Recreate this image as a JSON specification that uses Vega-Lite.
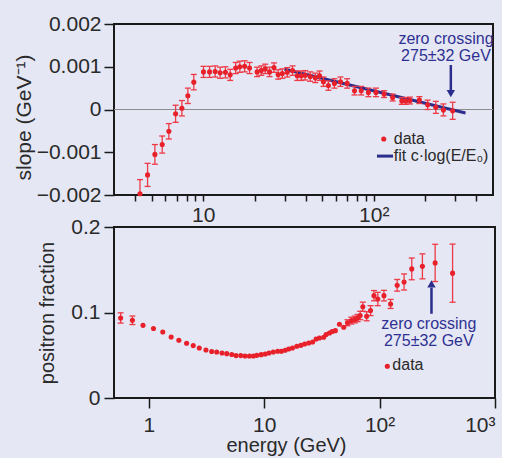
{
  "$schema": "https://vega.github.io/schema/vega-lite/v6.json",
  "background": "#e5e7f4",
  "padding": {"left": 12, "top": 12, "right": 5, "bottom": 3},
  "config": {
    "font": "Liberation Sans",
    "view": {"stroke": "#1a1a1a", "strokeWidth": 2},
    "axis": {"grid": false, "domain": false, "tickColor": "#1a1a1a", "tickWidth": 1.5, "labelFont": "Liberation Sans", "labelFontSize": 21, "labelColor": "#2a2a2a", "titleFont": "Liberation Sans", "titleFontSize": 20, "titleFontWeight": "normal", "titleColor": "#2a2a2a", "labelOverlap": false}
  },
  "datasets": {
    "one": [{}],
    "slope": [
      {"E": 4.26, "v": -0.00197, "lo": -0.0023, "hi": -0.00164},
      {"E": 4.72, "v": -0.00153, "lo": -0.0018, "hi": -0.00126},
      {"E": 5.21, "v": -0.00105, "lo": -0.00128, "hi": -0.00082},
      {"E": 5.75, "v": -0.00082, "lo": -0.00102, "hi": -0.00062},
      {"E": 6.29, "v": -0.00051, "lo": -0.00069, "hi": -0.00033},
      {"E": 6.89, "v": -0.0001, "lo": -0.0003, "hi": 0.0001},
      {"E": 7.5, "v": 0.00003, "lo": -0.00015, "hi": 0.00021},
      {"E": 8.13, "v": 0.00032, "lo": 0.00014, "hi": 0.0005},
      {"E": 8.81, "v": 0.00064, "lo": 0.00046, "hi": 0.00082},
      {"E": 10.04, "v": 0.00088, "lo": 0.00075, "hi": 0.00101},
      {"E": 10.9, "v": 0.00088, "lo": 0.00075, "hi": 0.00101},
      {"E": 11.76, "v": 0.00089, "lo": 0.00076, "hi": 0.00102},
      {"E": 12.57, "v": 0.00086, "lo": 0.00073, "hi": 0.00099},
      {"E": 13.5, "v": 0.00087, "lo": 0.00074, "hi": 0.001},
      {"E": 14.4, "v": 0.00081, "lo": 0.00068, "hi": 0.00094},
      {"E": 15.5, "v": 0.00097, "lo": 0.00084, "hi": 0.0011},
      {"E": 16.4, "v": 0.001, "lo": 0.00087, "hi": 0.00113},
      {"E": 17.5, "v": 0.00101, "lo": 0.00088, "hi": 0.00114},
      {"E": 18.7, "v": 0.00097, "lo": 0.00084, "hi": 0.0011},
      {"E": 20.7, "v": 0.00088, "lo": 0.00077, "hi": 0.00099},
      {"E": 21.9, "v": 0.00091, "lo": 0.0008, "hi": 0.00102},
      {"E": 23.1, "v": 0.00095, "lo": 0.00084, "hi": 0.00106},
      {"E": 24.5, "v": 0.00088, "lo": 0.00077, "hi": 0.00099},
      {"E": 26.0, "v": 0.00098, "lo": 0.00087, "hi": 0.00109},
      {"E": 27.5, "v": 0.00082, "lo": 0.00071, "hi": 0.00093},
      {"E": 29.1, "v": 0.00084, "lo": 0.00073, "hi": 0.00095},
      {"E": 31.1, "v": 0.00087, "lo": 0.00076, "hi": 0.00098},
      {"E": 33.4, "v": 0.00091, "lo": 0.0008, "hi": 0.00102},
      {"E": 35.6, "v": 0.00079, "lo": 0.00068, "hi": 0.0009},
      {"E": 37.6, "v": 0.00079, "lo": 0.00068, "hi": 0.0009},
      {"E": 39.6, "v": 0.0008, "lo": 0.00069, "hi": 0.00091},
      {"E": 42.4, "v": 0.00077, "lo": 0.00066, "hi": 0.00088},
      {"E": 45.4, "v": 0.00074, "lo": 0.00063, "hi": 0.00085},
      {"E": 48.1, "v": 0.00079, "lo": 0.00068, "hi": 0.0009},
      {"E": 50.7, "v": 0.00065, "lo": 0.00054, "hi": 0.00076},
      {"E": 54.2, "v": 0.00056, "lo": 0.00045, "hi": 0.00067},
      {"E": 58.8, "v": 0.00061, "lo": 0.0005, "hi": 0.00072},
      {"E": 63.8, "v": 0.00065, "lo": 0.00054, "hi": 0.00076},
      {"E": 69.8, "v": 0.00061, "lo": 0.0005, "hi": 0.00072},
      {"E": 77.1, "v": 0.00044, "lo": 0.00034, "hi": 0.00054},
      {"E": 84.4, "v": 0.00044, "lo": 0.00034, "hi": 0.00054},
      {"E": 93.0, "v": 0.0004, "lo": 0.0003, "hi": 0.0005},
      {"E": 103, "v": 0.0004, "lo": 0.0003, "hi": 0.0005},
      {"E": 115, "v": 0.00036, "lo": 0.00028, "hi": 0.00044},
      {"E": 129, "v": 0.00028, "lo": 0.0002, "hi": 0.00036},
      {"E": 146, "v": 0.0002, "lo": 0.00012, "hi": 0.00028},
      {"E": 154, "v": 0.0002, "lo": 0.00012, "hi": 0.00028},
      {"E": 163, "v": 0.00021, "lo": 0.00013, "hi": 0.00029},
      {"E": 185, "v": 0.00022, "lo": 0.00014, "hi": 0.0003},
      {"E": 207, "v": 0.00011, "lo": 0.0, "hi": 0.00022},
      {"E": 231, "v": 0.00005, "lo": -0.00009, "hi": 0.00019},
      {"E": 256, "v": -0.00001, "lo": -0.00015, "hi": 0.00013},
      {"E": 290, "v": -0.00003, "lo": -0.00023, "hi": 0.00017}
    ],
    "fit": [
      {"E": 30, "v": 0.00094},
      {"E": 345, "v": -0.00008}
    ],
    "frac": [
      {"E": 0.571, "v": 0.0936, "lo": 0.0876, "hi": 0.0996},
      {"E": 0.722, "v": 0.0909, "lo": 0.0859, "hi": 0.0959},
      {"E": 0.892, "v": 0.085},
      {"E": 1.099, "v": 0.0812},
      {"E": 1.323, "v": 0.0772},
      {"E": 1.563, "v": 0.0713},
      {"E": 1.823, "v": 0.0675},
      {"E": 2.128, "v": 0.064},
      {"E": 2.43, "v": 0.0613},
      {"E": 2.74, "v": 0.0585},
      {"E": 3.13, "v": 0.0561},
      {"E": 3.51, "v": 0.0543},
      {"E": 3.88, "v": 0.0538},
      {"E": 4.31, "v": 0.0526},
      {"E": 4.74, "v": 0.0519},
      {"E": 5.24, "v": 0.0508},
      {"E": 5.71, "v": 0.0496},
      {"E": 6.27, "v": 0.0496},
      {"E": 6.83, "v": 0.0491},
      {"E": 7.45, "v": 0.0491},
      {"E": 8.07, "v": 0.0491},
      {"E": 8.64, "v": 0.0499},
      {"E": 9.42, "v": 0.0507},
      {"E": 10.2, "v": 0.0515},
      {"E": 11.0, "v": 0.0527},
      {"E": 12.0, "v": 0.0538},
      {"E": 13.1, "v": 0.0546},
      {"E": 14.1, "v": 0.0546},
      {"E": 15.2, "v": 0.0558},
      {"E": 16.3, "v": 0.0573},
      {"E": 17.6, "v": 0.0585},
      {"E": 19.2, "v": 0.0605},
      {"E": 20.8, "v": 0.0616},
      {"E": 22.4, "v": 0.0632},
      {"E": 24.3, "v": 0.0643},
      {"E": 26.3, "v": 0.0655},
      {"E": 28.2, "v": 0.069},
      {"E": 30.1, "v": 0.0702},
      {"E": 32.8, "v": 0.071},
      {"E": 34.4, "v": 0.0742},
      {"E": 36.8, "v": 0.076},
      {"E": 38.8, "v": 0.0778},
      {"E": 41.4, "v": 0.0788},
      {"E": 44.9, "v": 0.0862},
      {"E": 48.9, "v": 0.0827},
      {"E": 52.7, "v": 0.088, "lo": 0.0845, "hi": 0.0915},
      {"E": 56.9, "v": 0.0905, "lo": 0.0865, "hi": 0.0945},
      {"E": 61.0, "v": 0.0918, "lo": 0.0878, "hi": 0.0958},
      {"E": 64.5, "v": 0.0935, "lo": 0.0893, "hi": 0.0977},
      {"E": 67.9, "v": 0.0965, "lo": 0.0916, "hi": 0.1014},
      {"E": 71.6, "v": 0.1068, "lo": 0.1015, "hi": 0.1121},
      {"E": 77.3, "v": 0.0956, "lo": 0.0903, "hi": 0.1009},
      {"E": 83.5, "v": 0.1022, "lo": 0.0964, "hi": 0.108},
      {"E": 89.4, "v": 0.1197, "lo": 0.1137, "hi": 0.1257},
      {"E": 96.5, "v": 0.1158, "lo": 0.108, "hi": 0.1236},
      {"E": 109.1, "v": 0.1197, "lo": 0.1135, "hi": 0.1259},
      {"E": 124.5, "v": 0.11, "lo": 0.1047, "hi": 0.1153},
      {"E": 142, "v": 0.1318, "lo": 0.125, "hi": 0.1386},
      {"E": 163, "v": 0.1357, "lo": 0.1263, "hi": 0.1451},
      {"E": 190, "v": 0.151, "lo": 0.1383, "hi": 0.1637},
      {"E": 235, "v": 0.154, "lo": 0.1394, "hi": 0.1686},
      {"E": 303, "v": 0.158, "lo": 0.1362, "hi": 0.1798},
      {"E": 429, "v": 0.146, "lo": 0.112, "hi": 0.18}
    ]
  },
  "vconcat": [
    {
      "width": 379,
      "height": 171,
      "layer": [
        {
          "data": {"name": "one"},
          "mark": {"type": "rule", "color": "#8c8c8c", "strokeWidth": 1},
          "encoding": {"y": {"datum": 0, "type": "quantitative"}}
        },
        {
          "data": {"name": "fit"},
          "mark": {"type": "line", "color": "#2b2e8c", "strokeWidth": 3},
          "encoding": {
            "x": {"field": "E", "type": "quantitative"},
            "y": {"field": "v", "type": "quantitative"}
          }
        },
        {
          "data": {"name": "slope"},
          "mark": {"type": "rule", "color": "#ee3a46", "strokeWidth": 1.3, "clip": true},
          "encoding": {
            "x": {"field": "E", "type": "quantitative"},
            "y": {"field": "lo", "type": "quantitative"},
            "y2": {"field": "hi"}
          }
        },
        {
          "data": {"name": "slope"},
          "mark": {"type": "tick", "orient": "horizontal", "size": 6, "thickness": 1.3, "color": "#ee3a46", "opacity": 1, "clip": true},
          "encoding": {
            "x": {"field": "E", "type": "quantitative"},
            "y": {"field": "lo", "type": "quantitative"}
          }
        },
        {
          "data": {"name": "slope"},
          "mark": {"type": "tick", "orient": "horizontal", "size": 6, "thickness": 1.3, "color": "#ee3a46", "opacity": 1, "clip": true},
          "encoding": {
            "x": {"field": "E", "type": "quantitative"},
            "y": {"field": "hi", "type": "quantitative"}
          }
        },
        {
          "data": {"name": "slope"},
          "mark": {"type": "point", "filled": true, "size": 26, "color": "#e8202a", "opacity": 1},
          "encoding": {
            "x": {
              "field": "E", "type": "quantitative",
              "scale": {"type": "log", "domain": [3, 500], "nice": false},
              "axis": {"title": null, "values": [4, 5, 6, 7, 8, 9, 10, 20, 30, 40, 50, 60, 70, 80, 90, 100, 200, 300, 400], "labelExpr": "datum.value == 10 ? '10' : datum.value == 100 ? '10²' : ''", "tickSize": 6, "labelPadding": 3}
            },
            "y": {
              "field": "v", "type": "quantitative",
              "scale": {"domain": [-0.002, 0.002], "nice": false, "zero": false},
              "axis": {"title": "slope (GeV⁻¹)", "titleFontSize": 21, "values": [-0.002, -0.001, 0, 0.001, 0.002], "labelExpr": "datum.value == 0 ? '0' : replace(format(datum.value, '.3f'), '-', '−')", "tickSize": 10, "labelPadding": 3, "titlePadding": 2, "titleY": 93}
            }
          }
        },
        {
          "data": {"name": "one"},
          "mark": {"type": "text", "color": "#2e3192", "fontSize": 16, "align": "center", "baseline": "middle"},
          "encoding": {"x": {"datum": 265}, "y": {"datum": 0.00165}, "text": {"value": "zero crossing"}}
        },
        {
          "data": {"name": "one"},
          "mark": {"type": "text", "color": "#2e3192", "fontSize": 16, "align": "center", "baseline": "middle"},
          "encoding": {"x": {"datum": 265}, "y": {"datum": 0.00126}, "text": {"value": "275±32 GeV"}}
        },
        {
          "data": {"name": "one"},
          "mark": {"type": "rule", "color": "#2b2e8c", "strokeWidth": 2.5},
          "encoding": {"x": {"datum": 283}, "y": {"datum": 0.00104}, "y2": {"datum": 0.00045}}
        },
        {
          "data": {"name": "one"},
          "mark": {"type": "point", "shape": "triangle-down", "filled": true, "size": 70, "color": "#2b2e8c", "opacity": 1},
          "encoding": {"x": {"datum": 283}, "y": {"datum": 0.00037}}
        },
        {
          "data": {"name": "one"},
          "mark": {"type": "point", "filled": true, "size": 26, "color": "#e8202a", "opacity": 1},
          "encoding": {"x": {"datum": 114.4}, "y": {"datum": -0.00069}}
        },
        {
          "data": {"name": "one"},
          "mark": {"type": "text", "color": "#2a2a2a", "fontSize": 16, "align": "left", "baseline": "middle"},
          "encoding": {"x": {"datum": 131}, "y": {"datum": -0.00069}, "text": {"value": "data"}}
        },
        {
          "data": {"name": "one"},
          "mark": {"type": "rule", "color": "#2b2e8c", "strokeWidth": 3},
          "encoding": {"x": {"datum": 104.4}, "x2": {"datum": 129.7}, "y": {"datum": -0.00109}}
        },
        {
          "data": {"name": "one"},
          "mark": {"type": "text", "color": "#2a2a2a", "fontSize": 16, "align": "left", "baseline": "middle"},
          "encoding": {"x": {"datum": 131}, "y": {"datum": -0.00109}, "text": {"value": "fit c·log(E/E₀)"}}
        }
      ]
    },
    {
      "width": 381,
      "height": 171,
      "layer": [
        {
          "data": {"name": "frac"},
          "transform": [{"filter": "datum.lo != null"}],
          "mark": {"type": "rule", "color": "#ee3a46", "strokeWidth": 1.3},
          "encoding": {
            "x": {"field": "E", "type": "quantitative"},
            "y": {"field": "lo", "type": "quantitative"},
            "y2": {"field": "hi"}
          }
        },
        {
          "data": {"name": "frac"},
          "transform": [{"filter": "datum.lo != null"}],
          "mark": {"type": "tick", "orient": "horizontal", "size": 6, "thickness": 1.3, "color": "#ee3a46", "opacity": 1},
          "encoding": {
            "x": {"field": "E", "type": "quantitative"},
            "y": {"field": "lo", "type": "quantitative"}
          }
        },
        {
          "data": {"name": "frac"},
          "transform": [{"filter": "datum.lo != null"}],
          "mark": {"type": "tick", "orient": "horizontal", "size": 6, "thickness": 1.3, "color": "#ee3a46", "opacity": 1},
          "encoding": {
            "x": {"field": "E", "type": "quantitative"},
            "y": {"field": "hi", "type": "quantitative"}
          }
        },
        {
          "data": {"name": "frac"},
          "mark": {"type": "point", "filled": true, "size": 26, "color": "#e8202a", "opacity": 1},
          "encoding": {
            "x": {
              "field": "E", "type": "quantitative",
              "scale": {"type": "log", "domain": [0.5, 1000], "nice": false},
              "axis": {"title": "energy (GeV)", "values": [1, 10, 100, 1000], "labelExpr": "datum.value == 1 ? '1' : datum.value == 10 ? '10' : datum.value == 100 ? '10²' : '10³'", "tickSize": 10, "labelPadding": 6, "labelFlush": true, "titlePadding": 0, "titleX": 172}
            },
            "y": {
              "field": "v", "type": "quantitative",
              "scale": {"domain": [0, 0.2], "nice": false},
              "axis": {"title": "positron fraction", "values": [0, 0.1, 0.2], "labelExpr": "datum.value == 0 ? '0' : format(datum.value, '.1f')", "tickSize": 10, "labelPadding": 4, "titlePadding": 13}
            }
          }
        },
        {
          "data": {"name": "one"},
          "mark": {"type": "text", "color": "#2e3192", "fontSize": 16, "align": "center", "baseline": "middle"},
          "encoding": {"x": {"datum": 267}, "y": {"datum": 0.0868}, "text": {"value": "zero crossing"}}
        },
        {
          "data": {"name": "one"},
          "mark": {"type": "text", "color": "#2e3192", "fontSize": 16, "align": "center", "baseline": "middle"},
          "encoding": {"x": {"datum": 267}, "y": {"datum": 0.0672}, "text": {"value": "275±32 GeV"}}
        },
        {
          "data": {"name": "one"},
          "mark": {"type": "rule", "color": "#2b2e8c", "strokeWidth": 2.5},
          "encoding": {"x": {"datum": 281.6}, "y": {"datum": 0.0985}, "y2": {"datum": 0.129}}
        },
        {
          "data": {"name": "one"},
          "mark": {"type": "point", "shape": "triangle-up", "filled": true, "size": 70, "color": "#2b2e8c", "opacity": 1},
          "encoding": {"x": {"datum": 281.6}, "y": {"datum": 0.1335}}
        },
        {
          "data": {"name": "one"},
          "mark": {"type": "point", "filled": true, "size": 26, "color": "#e8202a", "opacity": 1},
          "encoding": {"x": {"datum": 116.7}, "y": {"datum": 0.0371}}
        },
        {
          "data": {"name": "one"},
          "mark": {"type": "text", "color": "#2a2a2a", "fontSize": 16, "align": "left", "baseline": "middle"},
          "encoding": {"x": {"datum": 129}, "y": {"datum": 0.039}, "text": {"value": "data"}}
        }
      ]
    }
  ],
  "spacing": 32,
  "bounds": "flush",
  "resolve": {"scale": {"x": "independent", "y": "independent"}}
}
